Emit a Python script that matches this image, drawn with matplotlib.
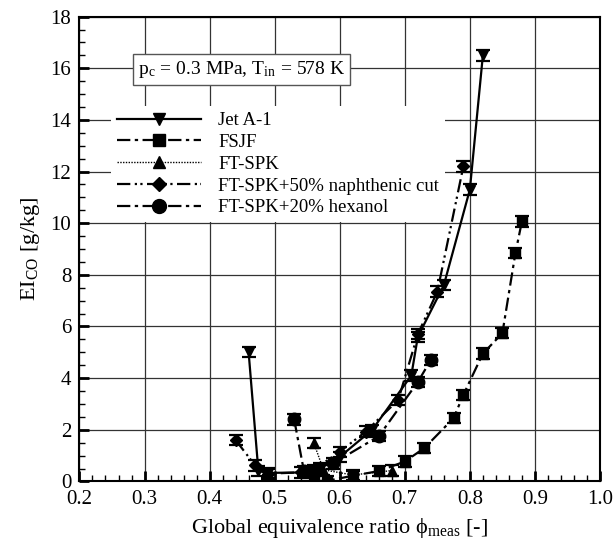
import matplotlib
matplotlib.use("Agg")
import matplotlib.pyplot as plt
from matplotlib.ticker import MultipleLocator, FormatStrFormatter
from matplotlib.lines import Line2D

plt.rcParams['font.family'] = ['Liberation Serif', 'DejaVu Serif']
plt.rcParams['mathtext.fontset'] = 'stix'

# Data
jet_x = [0.46, 0.475, 0.49, 0.55, 0.57, 0.60, 0.65, 0.71, 0.72, 0.76, 0.80, 0.82]
jet_y = [5.0, 0.4, 0.33, 0.35, 0.5, 0.95, 2.0, 4.1, 5.6, 7.6, 11.3, 16.5]

fsjf_x = [0.56, 0.58, 0.62, 0.66, 0.70, 0.73, 0.775, 0.79, 0.82, 0.85, 0.87, 0.88]
fsjf_y = [0.02, 0.02, 0.22, 0.40, 0.77, 1.29, 2.45, 3.35, 4.95, 5.74, 8.84, 10.07]

ftspk_x = [0.56, 0.575, 0.62, 0.68]
ftspk_y = [1.5, 0.45, 0.25, 0.42]

naph_x = [0.44, 0.47, 0.49, 0.54, 0.56, 0.60, 0.64, 0.69, 0.72, 0.75, 0.79]
naph_y = [1.6, 0.62, 0.3, 0.35, 0.45, 1.15, 1.93, 3.16, 5.7, 7.35, 12.2]

hex_x = [0.53, 0.545, 0.59, 0.66, 0.72, 0.74]
hex_y = [2.4, 0.4, 0.7, 1.75, 3.85, 4.7]

labels = ['Jet A-1', 'FSJF', 'FT-SPK', 'FT-SPK+50% naphthenic cut', 'FT-SPK+20% hexanol']
err = 0.2

fig = plt.figure(figsize=(6.16, 5.54), dpi=100)
ax = fig.add_axes([0.129, 0.131, 0.845, 0.839])

styles = [
    dict(marker='v', ls='-', lw=1.6, ms=7),
    dict(marker='s', ls=(0, (6, 2, 1.5, 2)), lw=1.6, ms=7),
    dict(marker='^', ls=(0, (1, 1)), lw=1.0, ms=7),
    dict(marker='D', ls=(0, (6, 2, 1, 1.5, 1, 2)), lw=1.6, ms=6),
    dict(marker='o', ls=(0, (6, 2, 1.5, 2)), lw=1.6, ms=9),
]
series = [(jet_x, jet_y), (fsjf_x, fsjf_y), (ftspk_x, ftspk_y), (naph_x, naph_y), (hex_x, hex_y)]

handles = []
for (xs, ys), st, lab in zip(series, styles, labels):
    ax.errorbar(xs, ys, yerr=err, fmt=st['marker'], linestyle=st['ls'], lw=st['lw'], ms=st['ms'],
                color='black', capsize=5, capthick=1.6, elinewidth=1.2)
    handles.append(Line2D([], [], color='black', marker=st['marker'], linestyle=st['ls'],
                          lw=st['lw'], ms=st['ms'] + 1))

ax.set_xlim(0.2, 1.0)
ax.set_ylim(0, 18)
ax.xaxis.set_major_locator(MultipleLocator(0.1))
ax.xaxis.set_minor_locator(MultipleLocator(0.02))
ax.yaxis.set_major_locator(MultipleLocator(2))
ax.yaxis.set_minor_locator(MultipleLocator(0.5))
ax.xaxis.set_major_formatter(FormatStrFormatter('%.1f'))
ax.tick_params(which='major', direction='in', length=7, width=2, labelsize=15, pad=6)
ax.tick_params(which='minor', direction='in', length=4, width=1)
ax.grid(True, which='major', color='#333333', lw=0.9)
for s in ax.spines.values():
    s.set_linewidth(1.5)

ax.set_xlabel(r'Global equivalence ratio $\mathregular{\phi_{meas}}$ [-]', fontsize=16, labelpad=5)
ax.set_ylabel(r'EI$_{\mathregular{CO}}$ [g/kg]', fontsize=16, labelpad=6)

ax.text(0.29, 15.95, r'p$_{\mathregular{c}}$ = 0.3 MPa, T$_{\mathregular{in}}$ = 578 K', fontsize=14,
        va='center', bbox=dict(boxstyle='square,pad=0.25', fc='white', ec='#555555', lw=1.0))

leg = ax.legend(handles, labels, loc='upper left', bbox_to_anchor=(0.047, 0.823), frameon=True,
                fontsize=13.5, handlelength=4.5, borderaxespad=0.4, labelspacing=0.25,
                handletextpad=0.9, borderpad=0.3)
leg.get_frame().set_edgecolor('none')
leg.get_frame().set_facecolor('white')
leg.get_frame().set_alpha(1.0)
leg.get_frame().set_boxstyle('square', pad=0.0)

fig.savefig('out.png', dpi=100)
